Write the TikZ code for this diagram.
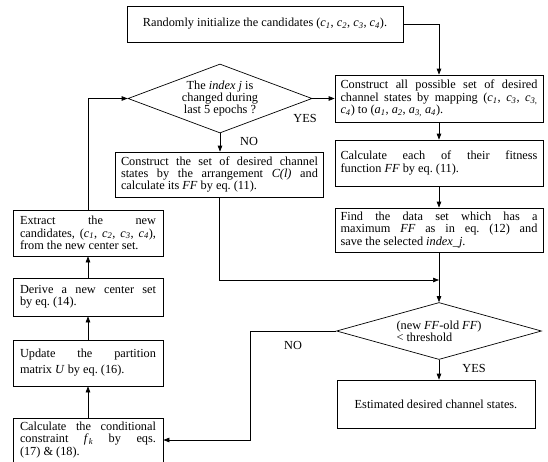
\documentclass[tikz,border=0pt]{standalone}
\usepackage{fontspec}
\setmainfont{Liberation Serif}
\usetikzlibrary{arrows.meta,shapes.geometric}
\hyphenpenalty=10000
\exhyphenpenalty=10000
\frenchspacing
\newcommand{\vsub}[2]{\textit{#1}\textsubscript{\textit{#2}}}

\begin{document}
\begin{tikzpicture}[
  x=1pt, y=-1pt,
  >={Triangle[length=6pt,width=4.5pt]},
  font=\fontsize{12.3}{12.4}\selectfont,
  line width=0.7pt,
  procbox/.style={draw, rectangle, inner xsep=5.5pt, inner ysep=0pt, align=justify},
  leftbox/.style={procbox, inner xsep=7pt, text width=136pt, minimum width=150pt},
  rightbox/.style={procbox, text width=197pt, minimum width=208pt},
  testbox/.style={draw, diamond, inner sep=0pt,
    font=\fontsize{12.3}{10.8}\selectfont},
  answer/.style={inner sep=0pt}
]
\useasboundingbox (0,0) rectangle (548,461);

% Start and main column on the right.
\node[procbox, align=center, minimum width=276pt, minimum height=36pt] (init) at (265,24)
  {Randomly initialize the candidates (\vsub{c}{1}, \vsub{c}{2}, \vsub{c}{3}, \vsub{c}{4}).};
\node[rightbox, minimum height=47pt] (mapall) at (439,98.5)
  {Construct all possible set of desired\linebreak channel states by mapping (\vsub{c}{1}, \vsub{c}{3}, \vsub{c}{3,}\linebreak \vsub{c}{4}) to (\vsub{a}{1}, \vsub{a}{2}, \vsub{a}{3,} \vsub{a}{4}).};
\node[rightbox, minimum height=46pt] (fitness) at (439,163)
  {Calculate each of their fitness\linebreak function \textit{FF} by eq. (11).};
\node[rightbox, minimum height=44pt] (findmax) at (439,230)
  {Find the data set which has a\linebreak maximum \textit{FF} as in eq. (12) and\linebreak save the selected \textit{index\_j}.};

% Decisions.
\node[testbox, align=center, aspect=2.67, minimum width=184pt, minimum height=69pt] (changed) at (220,98.5)
  {The \textit{index j} is\\changed during\\last 5 epochs ?};
\node[testbox, align=left, aspect=3.6, minimum width=205pt, minimum height=57pt] (thresh) at (439,331)
  {(new \textit{FF}-old \textit{FF})\\< threshold};

\node[procbox, text width=197pt, minimum width=207pt, minimum height=45pt] (arrange) at (219.5,174.5)
  {Construct the set of desired channel\linebreak states by the arrangement \textit{C(l)} and\linebreak calculate its \textit{FF} by eq. (11).};
\node[procbox, align=center, minimum width=198pt, minimum height=48pt] (estim) at (436,404)
  {Estimated desired channel states.};

% Left column, read from bottom to top.
\node[leftbox, minimum height=46pt] (extract) at (88,233)
  {Extract the new\linebreak candidates, (\vsub{c}{1}, \vsub{c}{2}, \vsub{c}{3}, \vsub{c}{4}),\linebreak from the new center set.};
\node[leftbox, minimum height=38pt] (derive) at (88,297)
  {Derive a new center set\linebreak by eq. (14).};
\node[leftbox, minimum height=46pt, font=\fontsize{12.3}{16}\selectfont] (update) at (88,363)
  {Update the partition\linebreak matrix \textit{U} by eq. (16).};
\node[leftbox, minimum height=44pt] (cond) at (88,440)
  {Calculate the conditional\linebreak constraint \vsub{f}{k} by eqs.\linebreak (17) \& (18).};

\coordinate (join) at (439,280);
\coordinate (bend) at (250,331);

% Connectors.
\draw[->] (init.east) -| (mapall.north);
\draw[->] (mapall.south) -- (fitness.north);
\draw[->] (fitness.south) -- (findmax.north);
\draw[->] (findmax.south) -- (thresh.north);
\draw[->] (changed.east) -- (mapall.west);
\draw[->] (changed.south) -- (changed.south |- arrange.north);
\draw[->] (arrange.south) |- (join);
\draw[->] (thresh.south) -- (thresh.south |- estim.north);
\draw[->] (thresh.west) -- (bend) |- (cond.east);
\draw[->] (cond.north) -- (update.south);
\draw[->] (update.north) -- (derive.south);
\draw[->] (derive.north) -- (extract.south);
\draw[->] (extract.north) |- (changed.west);

% Branch labels.
\node[answer] (yes1) at (305,118) {YES};
\node[answer] (no1) at (249,141) {NO};
\node[answer] (yes2) at (474,368) {YES};
\node[answer] (no2) at (293,345) {NO};
\end{tikzpicture}
\end{document}
